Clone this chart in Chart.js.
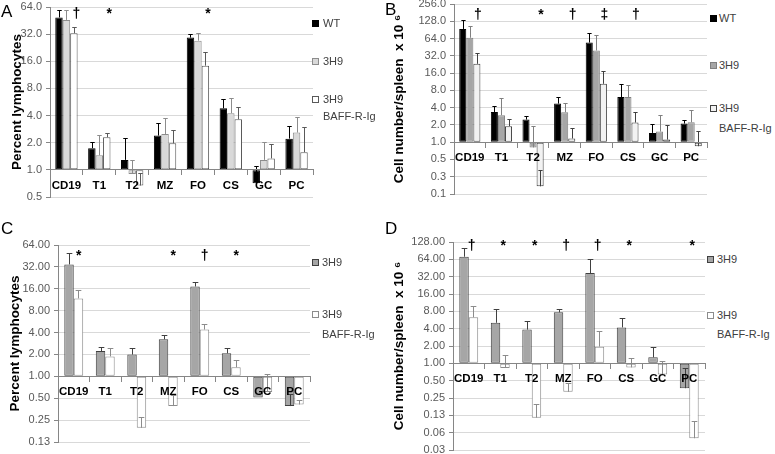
<!DOCTYPE html>
<html><head><meta charset="utf-8">
<script src="https://cdn.jsdelivr.net/npm/chart.js@4.4.1/dist/chart.umd.min.js"></script>
<style>
html,body{margin:0;padding:0;background:#fff;}
body{width:775px;height:454px;position:relative;overflow:hidden;font-family:"Liberation Sans",Arial,sans-serif;}
canvas{position:absolute;}
.lg{position:absolute;font-size:11px;color:#404040;white-space:nowrap;line-height:14px;z-index:5;}
.sq{position:absolute;width:5px;height:5px;border:1px solid #000;}
.pl{position:absolute;font-size:17px;color:#000;z-index:5;line-height:17px;}
</style>
</head><body>
<script>
// ---------------- data ----------------
const categories = ['CD19','T1','T2','MZ','FO','CS','GC','PC'];

// Panel A: percent lymphocytes (WT, 3H9, 3H9 BAFF-R-Ig)
const aWT      = [49, 1.74, 1.29, 2.4, 29.3, 4.82, 0.71, 2.22];
const aWTErr   = [59, 2.06, 2.24, 3.35, 32.2, 6.1, 1.1, 3.07];
const a3H9     = [46, 1.45, 0.9, 2.5, 27.1, 4.25, 1.29, 2.59];
const a3H9Err  = [60, 2.44, 1.29, 3.74, 32.7, 6.3, 2.06, 3.9];
const aBAFF    = [32.7, 2.3, 0.67, 1.97, 14.3, 3.64, 1.34, 1.57];
const aBAFFErr = [38, 2.55, 0.92, 2.78, 20.5, 5.0, 1.94, 2.97];
const aSig     = ['†','*','','','*','','',''];
const aTicks   = ['0.5','1.0','2.0','4.0','8.0','16.0','32.0','64.0'];

// Panel B: cell number/spleen x 10^6 (WT, 3H9, 3H9 BAFF-R-Ig)
const bWT      = [94, 3.36, 2.48, 4.7, 54.5, 6.1, 1.45, 2.11];
const bWTErr   = [137, 4.3, 2.87, 6.1, 80, 10.4, 2.1, 2.48];
const b3H9     = [66, 2.95, 0.81, 3.32, 39.6, 6.1, 1.53, 2.22];
const b3H9Err  = [106, 5.8, 1.95, 4.8, 74, 9.9, 2.94, 3.7];
const bBAFF    = [23.2, 1.9, 0.17, 1.16, 10.4, 2.2, 1.11, 0.85];
const bBAFFErr = [35.6, 2.54, 0.33, 1.8, 17.3, 3.36, 1.97, 1.57];
const bSig     = ['†','','*','†','‡','†','',''];
const bTicks   = ['0.1','0.3','0.5','1.0','2.0','4.0','8.0','16.0','32.0','64.0','128.0','256.0'];

// Panel C: percent lymphocytes (3H9, 3H9 BAFF-R-Ig)
const c3H9     = [34.6, 2.23, 1.99, 3.23, 17.2, 2.07, 0.51, 0.39];
const c3H9Err  = [49.6, 2.56, 2.45, 3.71, 19.8, 2.45, null, 0.58];
const cBAFF    = [11.8, 1.88, 0.196, 0.39, 4.4, 1.33, 0.61, 0.41];
const cBAFFErr = [15.5, 2.43, 0.28, 0.55, 5.2, 1.68, 1.08, 0.47];
const cSig     = ['*','','','*','†','*','',''];
const cTicks   = ['0.13','0.25','0.50','1.00','2.00','4.00','8.00','16.00','32.00','64.00'];

// Panel D: cell number/spleen x 10^6 (3H9, 3H9 BAFF-R-Ig)
const d3H9     = [71, 5.06, 3.85, 7.7, 37, 4.2, 1.27, 0.37];
const d3H9Err  = [102, 8.8, 5.4, 8.8, 64, 6.2, 1.95, 0.83];
const dBAFF    = [6.3, 0.83, 0.114, 0.32, 1.95, 0.85, 0.64, 0.05];
const dBAFFErr = [10, 1.42, 0.2, 0.46, 3.65, 1.22, 1.08, 0.1];
const dSig     = ['†','*','*','†','†','*','','*'];
const dTicks   = ['0.03','0.06','0.13','0.25','0.50','1.00','2.00','4.00','8.00','16.00','32.00','64.00','128.00'];

// ---------------- drawing ----------------
const FONT = '"Liberation Sans", Arial, sans-serif';

const errPlugin = {
  id: 'errbars',
  afterDatasetsDraw(chart) {
    const ctx = chart.ctx, ys = chart.scales.y;
    chart.data.datasets.forEach((ds, di) => {
      const meta = chart.getDatasetMeta(di);
      meta.data.forEach((bar, i) => {
        const e = ds.errTop[i];
        if (e == null) return;
        const yTop = ys.getPixelForValue(Math.log2(e));
        const cap = Math.max(2, bar.width * 0.3);
        ctx.save();
        ctx.strokeStyle = ds.errColor;
        ctx.lineWidth = 1;
        ctx.beginPath();
        const x = Math.round(bar.x) + 0.5;
        ctx.moveTo(x, bar.y);
        ctx.lineTo(x, Math.round(yTop) + 0.5);
        ctx.moveTo(x - cap, Math.round(yTop) + 0.5);
        ctx.lineTo(x + cap, Math.round(yTop) + 0.5);
        ctx.stroke();
        ctx.restore();
      });
    });
  }
};

const sigPlugin = {
  id: 'sig',
  afterDraw(chart, args, opts) {
    const ctx = chart.ctx, xs = chart.scales.x;
    ctx.save();
    ctx.fillStyle = '#000';
    ctx.font = 'bold 14px ' + FONT;
    ctx.textAlign = 'center';
    ctx.textBaseline = 'middle';
    opts.marks.forEach((m, i) => {
      if (!m) return;
      ctx.fillText(m, xs.getPixelForValue(i) + opts.dx, chart.chartArea.top + opts.dy);
    });
    ctx.restore();
  }
};

function makePanel(p) {
  const cv = document.createElement('canvas');
  const cx = p.L - p.yw, cy = p.T - 20;
  const cw = p.R - cx + 2, ch = p.B - p.T + 40;
  cv.width = cw; cv.height = ch;
  cv.style.left = cx + 'px'; cv.style.top = cy + 'px';
  cv.style.width = cw + 'px'; cv.style.height = ch + 'px';
  document.body.appendChild(cv);
  const ticks = p.ticks;
  new Chart(cv, {
    type: 'bar',
    data: {
      labels: categories,
      datasets: p.series.map(s => ({
        label: s.label,
        data: s.values.map(v => Math.log2(v)),
        errTop: s.err,
        errColor: s.errColor,
        backgroundColor: s.fill,
        borderColor: s.border,
        borderWidth: 1,
        borderSkipped: false,
        categoryPercentage: p.catPct,
        barPercentage: 1
      }))
    },
    options: {
      responsive: false, animation: false, devicePixelRatio: 1,
      layout: { padding: { left: 0, top: 20, right: 2, bottom: 20 } },
      plugins: {
        legend: { display: false }, tooltip: { enabled: false },
        sig: { marks: p.sig, dx: p.symDx, dy: p.symDy }
      },
      scales: {
        x: {
          type: 'category', position: { y: 0 }, offset: true,
          grid: { offset: true, drawOnChartArea: false, drawTicks: true, tickLength: 5, color: '#868686', z: 1 },
          border: { display: true, color: '#868686', z: 1 },
          ticks: { z: 2, font: { family: FONT, size: 11.5, weight: 'bold' }, color: '#000', padding: 4, maxRotation: 0, autoSkip: false }
        },
        y: {
          type: 'linear', min: p.min, max: p.max,
          afterFit: s => { s.width = p.yw; },
          afterBuildTicks: s => { const t = []; for (let v = p.min; v <= p.max; v++) t.push({ value: v }); s.ticks = t; },
          ticks: { autoSkip: false, font: { family: FONT, size: 11 }, color: '#595959', padding: 4,
                   callback: v => ticks[Math.round(v - p.min)] },
          grid: { color: '#d9d9d9', tickColor: '#868686', tickLength: 4 },
          border: { color: '#868686' },
          title: { display: true, text: p.title, font: { family: FONT, size: 13.5, weight: 'bold' }, color: '#000', padding: 0 }
        }
      }
    },
    plugins: [errPlugin, sigPlugin]
  });
  // legend (HTML text)
  p.series.forEach((s, i) => {
    const y = p.legYs[i];
    const sq = document.createElement('div');
    sq.className = 'sq';
    sq.style.left = p.legX + 'px'; sq.style.top = (y - 3) + 'px';
    sq.style.background = s.fill; sq.style.borderColor = s.border;
    document.body.appendChild(sq);
    s.label.split('\n').forEach((line, li) => {
      const t = document.createElement('div');
      t.className = 'lg';
      t.textContent = line;
      t.style.left = (p.legX + p.legGap) + 'px';
      t.style.top = (y - 7 + li * p.legLine) + 'px';
      document.body.appendChild(t);
    });
  });
  const pl = document.createElement('div');
  pl.className = 'pl'; pl.textContent = p.letter;
  pl.style.left = p.letterX + 'px'; pl.style.top = p.letterY + 'px';
  document.body.appendChild(pl);
}

const pctTitle = 'Percent lymphocytes';
const cellTitle = 'Cell number/spleen  x 10 \u2076';

makePanel({
  letter: 'A', letterX: 1, letterY: 3,
  L: 50, R: 313, T: 7, B: 197, yw: 41, min: -1, max: 6, ticks: aTicks,
  title: pctTitle, catPct: 0.68, sig: aSig, symDx: 10, symDy: 7,
  legX: 312, legGap: 11, legLine: 17, legYs: [23, 61, 99],
  series: [
    { label: 'WT', values: aWT, err: aWTErr, fill: '#000000', border: '#000000', errColor: '#000000' },
    { label: '3H9', values: a3H9, err: a3H9Err, fill: '#d9d9d9', border: '#8c8c8c', errColor: '#8c8c8c' },
    { label: '3H9\nBAFF-R-Ig', values: aBAFF, err: aBAFFErr, fill: '#ffffff', border: '#595959', errColor: '#595959' }
  ]
});

makePanel({
  letter: 'B', letterX: 385, letterY: 1,
  L: 454, R: 707, T: 4, B: 194, yw: 63, min: -3, max: 8, ticks: bTicks,
  title: cellTitle, catPct: 0.67, sig: bSig, symDx: 8, symDy: 11,
  legX: 710, legGap: 9, legLine: 20, legYs: [18, 65, 108],
  series: [
    { label: 'WT', values: bWT, err: bWTErr, fill: '#000000', border: '#000000', errColor: '#000000' },
    { label: '3H9', values: b3H9, err: b3H9Err, fill: '#a6a6a6', border: '#808080', errColor: '#808080' },
    { label: '3H9\nBAFF-R-Ig', values: bBAFF, err: bBAFFErr, fill: '#f2f2f2', border: '#404040', errColor: '#404040' }
  ]
});

makePanel({
  letter: 'C', letterX: 1, letterY: 220,
  L: 58, R: 310, T: 245, B: 442, yw: 51, min: -3, max: 6, ticks: cTicks,
  title: pctTitle, catPct: 0.6, sig: cSig, symDx: 5, symDy: 11,
  legX: 312, legGap: 10, legLine: 20, legYs: [262, 314],
  series: [
    { label: '3H9', values: c3H9, err: c3H9Err, fill: '#a6a6a6', border: '#404040', errColor: '#404040' },
    { label: '3H9\nBAFF-R-Ig', values: cBAFF, err: cBAFFErr, fill: '#ffffff', border: '#8c8c8c', errColor: '#8c8c8c' }
  ]
});

makePanel({
  letter: 'D', letterX: 385, letterY: 220,
  L: 453, R: 705, T: 242, B: 450, yw: 62, min: -5, max: 7, ticks: dTicks,
  title: cellTitle, catPct: 0.6, sig: dSig, symDx: 3, symDy: 4,
  legX: 707, legGap: 10, legLine: 19, legYs: [259, 315],
  series: [
    { label: '3H9', values: d3H9, err: d3H9Err, fill: '#a6a6a6', border: '#404040', errColor: '#404040' },
    { label: '3H9\nBAFF-R-Ig', values: dBAFF, err: dBAFFErr, fill: '#ffffff', border: '#8c8c8c', errColor: '#8c8c8c' }
  ]
});
</script>
</body></html>
